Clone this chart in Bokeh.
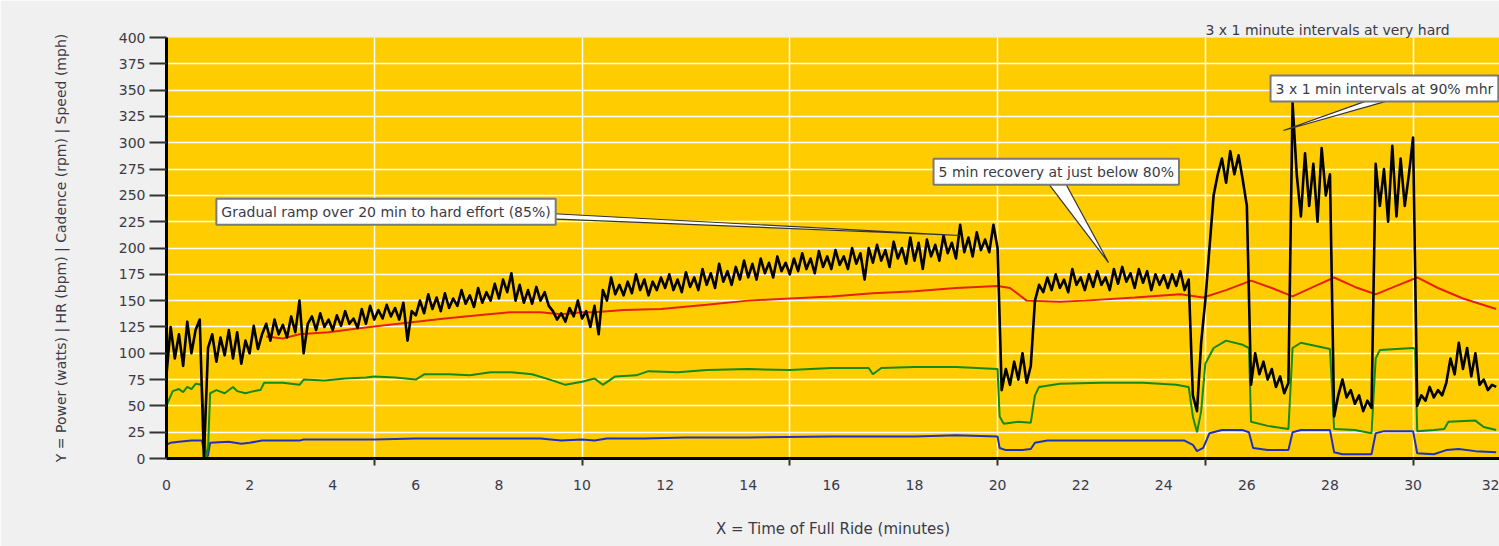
from bokeh.plotting import figure
from bokeh.models import Range1d, FixedTicker, Label
from bokeh.embed import file_html
from bokeh.resources import INLINE

# ---------------- data ----------------
# Power (watts), sampled every 0.1 minute, one row per minute
power_rows = [
    [80, 125, 95, 118, 88, 130, 100, 122, 132, 0],
    [105, 118, 92, 115, 98, 122, 95, 120, 90, 112],
    [100, 126, 104, 118, 128, 112, 132, 118, 127, 115],
    [135, 120, 150, 100, 128, 135, 122, 138, 125, 132],
    [122, 136, 126, 140, 128, 133, 124, 142, 128, 145],
    [132, 141, 133, 146, 135, 143, 132, 148, 112, 140],
    [136, 150, 138, 156, 142, 153, 140, 157, 143, 152],
    [145, 160, 147, 155, 144, 162, 148, 158, 150, 166],
    [152, 170, 158, 176, 150, 165, 148, 160, 147, 163],
    [150, 158, 145, 140, 132, 138, 130, 143, 135, 150],
    [133, 140, 125, 145, 118, 160, 150, 172, 156, 165],
    [155, 168, 157, 175, 160, 170, 155, 168, 160, 172],
    [162, 175, 160, 170, 158, 177, 163, 172, 160, 180],
    [165, 176, 162, 185, 168, 178, 165, 182, 170, 188],
    [172, 185, 170, 190, 176, 186, 172, 192, 178, 186],
    [175, 190, 178, 195, 180, 190, 176, 197, 182, 192],
    [180, 198, 184, 192, 180, 200, 185, 195, 170, 200],
    [186, 203, 188, 198, 182, 206, 190, 200, 185, 210],
    [188, 205, 180, 208, 192, 203, 188, 212, 195, 205],
    [190, 222, 196, 210, 192, 215, 198, 208, 196, 222],
    [200, 65, 85, 70, 92, 75, 100, 72, 88, 150],
    [165, 158, 172, 160, 175, 162, 170, 158, 180, 165],
    [172, 160, 175, 163, 178, 165, 172, 160, 180, 166],
    [182, 168, 176, 162, 180, 167, 178, 160, 175, 165],
    [174, 162, 175, 164, 178, 160, 170, 60, 45, 110],
    [150, 200, 250, 270, 285, 262, 292, 270, 288, 265],
    [240, 70, 100, 80, 92, 75, 85, 68, 78, 62],
    [72, 338, 270, 230, 290, 240, 280, 225, 295, 250],
    [270, 40, 60, 75, 58, 65, 52, 60, 45, 55],
    [48, 280, 240, 275, 225, 297, 230, 285, 240, 270],
    [305, 50, 60, 55, 68, 58, 65, 60, 72, 95],
    [80, 110, 85, 105, 78, 100, 70, 75, 65, 70],
    [68],
]
power = [v for row in power_rows for v in row]
power_t = [round(i * 0.1, 1) for i in range(len(power))]

# Heart rate (bpm)
hr_t = [2.4, 2.8, 3.2, 3.9, 4.5, 5.1, 5.8, 6.7, 7.5, 8.3, 9.0, 9.5, 10.0, 10.3,
        11.0, 11.9, 13.0, 14.0, 15.0, 16.0, 17.0, 18.0, 19.0, 20.0, 20.3, 20.7,
        21.5, 22.1, 23.3, 24.4, 24.95, 25.5, 26.1, 26.6, 27.1, 27.6, 28.1, 28.6,
        29.1, 29.6, 30.1, 30.6, 31.2, 32.0]
hr = [116, 114, 118, 120, 123, 126, 129, 133, 136, 139, 139, 137, 139, 139,
      141, 142, 146, 150, 152, 154, 157, 159, 162, 164, 162, 150,
      149, 150, 153, 156, 153, 160, 169, 162, 154, 163, 172, 163,
      156, 164, 172, 162, 152, 142]

# Cadence (rpm)
cad_t = [0.0, 0.05, 0.15, 0.3, 0.4, 0.5, 0.6, 0.7, 0.85, 0.9, 0.95, 1.0, 1.05,
         1.2, 1.4, 1.6, 1.7, 1.9, 2.1, 2.26, 2.35, 2.8, 3.2, 3.3, 3.8, 4.3, 4.8,
         5.0, 5.5, 6.0, 6.2, 6.8, 7.3, 7.8, 8.3, 8.8, 9.3, 9.6, 10.0, 10.3, 10.5,
         10.8, 11.3, 11.6, 12.3, 13.0, 14.0, 15.0, 16.0, 16.9, 17.0, 17.2, 18.0,
         19.0, 19.5, 20.0, 20.05, 20.15, 20.5, 20.8, 20.9, 21.0, 21.5, 22.5, 23.5,
         24.3, 24.6, 24.7, 24.8, 24.9, 25.0, 25.2, 25.5, 25.9, 26.05, 26.1, 26.5,
         27.0, 27.1, 27.3, 28.0, 28.1, 28.6, 29.0, 29.1, 29.2, 30.0, 30.05, 30.1,
         30.5, 30.75, 30.85, 31.5, 31.7, 32.0]
cad = [50, 55, 64, 66, 63, 68, 66, 71, 70, 35, 0, 10, 62,
       65, 62, 68, 64, 62, 64, 65, 72, 72, 70, 75, 74, 76, 77,
       78, 77, 75, 80, 80, 79, 82, 82, 80, 74, 70, 73, 76, 70,
       78, 79, 83, 82, 84, 85, 84, 86, 86, 80, 86, 87,
       87, 86, 85, 40, 33, 35, 34, 60, 68, 71, 72, 72,
       70, 68, 40, 25, 45, 90, 105, 112, 108, 105, 35, 31,
       28, 105, 110, 104, 28, 27, 24, 95, 103, 105, 104, 26,
       27, 28, 35, 36, 30, 27]

# Speed (mph)
spd_t = [0.0, 0.1, 0.3, 0.6, 0.85, 0.9, 0.95, 1.0, 1.05, 1.5, 1.8, 2.0, 2.3,
         3.2, 3.3, 5.0, 6.0, 7.0, 8.0, 9.0, 9.5, 10.0, 10.3, 10.6, 11.5, 12.5,
         14.0, 16.0, 18.0, 19.0, 20.0, 20.05, 20.2, 20.6, 20.8, 20.9, 21.2, 22.0,
         23.5, 24.5, 24.7, 24.8, 24.95, 25.1, 25.4, 25.9, 26.05, 26.15, 26.5,
         27.0, 27.1, 27.3, 28.0, 28.1, 28.3, 29.0, 29.1, 29.3, 30.0, 30.1, 30.5,
         30.8, 31.1, 31.5, 32.0]
spd = [13, 15, 16, 17, 17, 8, 0, 3, 15, 16, 14, 15, 17,
       17, 18, 18, 19, 19, 19, 19, 17, 18, 17, 19, 19, 20,
       20, 21, 21, 22, 21, 10, 8, 8, 9, 15, 17, 17,
       17, 17, 13, 7, 10, 24, 27, 27, 25, 10, 8,
       8, 25, 27, 27, 6, 4, 4, 24, 26, 26, 5, 4,
       8, 9, 7, 6]

x_ticks = list(range(0, 33, 2))
x_marks = [5, 10, 15, 20, 25, 30]
y_ticks = list(range(0, 401, 25))

title_text = "3 x 1 minute intervals at very hard"
x_title = "X = Time of Full Ride (minutes)"
y_title = "Y = Power (watts) | HR (bpm) | Cadence (rpm) | Speed (mph)"

# callouts: text, box anchor (t, value), pointer base pts, pointer tip
callouts = [
    ("Gradual ramp over 20 min to hard effort (85%)", (1.2, 234.5),
     [(9.1, 233.0), (9.1, 228.0)], (19.11, 211.9)),
    ("5 min recovery at just below 80%", (18.46, 272.5),
     [(21.23, 261.0), (21.64, 261.0)], (22.67, 186.2)),
    ("3 x 1 min intervals at 90% mhr", (26.57, 351.5),
     [(28.9, 340.0), (29.41, 340.0)], (26.88, 311.6)),
]

FONT = "DejaVu Sans"
TXT = "#3a3a48"

p = figure(width=1499, height=546, output_backend="svg", toolbar_location=None,
           x_range=Range1d(0, 32.08), y_range=Range1d(0, 400),
           min_border_left=166, min_border_right=0, min_border_top=37,
           min_border_bottom=88, background_fill_color="#FFCC00",
           border_fill_color="#F0F0F0", outline_line_color=None)

# title above the frame, near the right
p.title.text = title_text
p.title.align = "left"
p.title.offset = 1039
p.title.standoff = 0
p.title.text_font = FONT
p.title.text_font_size = "14px"
p.title.text_font_style = "normal"
p.title.text_color = TXT

# grids
p.xgrid.ticker = FixedTicker(ticks=x_marks)
p.xgrid.grid_line_color = "white"
p.xgrid.grid_line_width = 1.5
p.ygrid.grid_line_color = "white"
p.ygrid.grid_line_width = 1.5

# x axis
p.xaxis.ticker = FixedTicker(ticks=x_ticks, minor_ticks=x_marks)
p.xaxis.major_tick_out = 0
p.xaxis.major_tick_in = 0
p.xaxis.minor_tick_out = 7
p.xaxis.minor_tick_in = 0
p.xaxis.minor_tick_line_color = "#333333"
p.xaxis.minor_tick_line_width = 2
p.xaxis.axis_line_color = "black"
p.xaxis.axis_line_width = 3
p.xaxis.major_label_standoff = 14
p.xaxis.major_label_text_font = FONT
p.xaxis.major_label_text_font_size = "14px"
p.xaxis.major_label_text_color = TXT
p.xaxis.axis_label = x_title
p.xaxis.axis_label_text_font = FONT
p.xaxis.axis_label_text_font_size = "15px"
p.xaxis.axis_label_text_font_style = "normal"
p.xaxis.axis_label_text_color = TXT
p.xaxis.axis_label_standoff = 27

# y axis
p.yaxis.ticker = FixedTicker(ticks=y_ticks)
p.yaxis.major_tick_out = 17
p.yaxis.major_tick_in = 0
p.yaxis.major_tick_line_width = 2
p.yaxis.major_tick_line_color = "#333333"
p.yaxis.minor_tick_line_color = None
p.yaxis.axis_line_color = "black"
p.yaxis.axis_line_width = 3
p.yaxis.major_label_standoff = 4
p.yaxis.major_label_text_font = FONT
p.yaxis.major_label_text_font_size = "14px"
p.yaxis.major_label_text_color = TXT
p.yaxis.axis_label = y_title
p.yaxis.axis_label_text_font = FONT
p.yaxis.axis_label_text_font_size = "14px"
p.yaxis.axis_label_text_font_style = "normal"
p.yaxis.axis_label_text_color = TXT
p.yaxis.axis_label_standoff = 47

# series
p.line(spd_t, spd, line_color="#1f2fc0", line_width=2)
p.line(cad_t, cad, line_color="#138a13", line_width=2)
p.line(hr_t, hr, line_color="#e8200a", line_width=2)
p.line(power_t, power, line_color="black", line_width=2.6, line_join="round")

# callout pointers and boxes
for text, (tx, ty), base, tip in callouts:
    xs = [base[0][0], tip[0], base[1][0]]
    ys = [base[0][1], tip[1], base[1][1]]
    p.patch(xs, ys, fill_color="white", line_color="#333333", line_width=1.2)
for text, (tx, ty), base, tip in callouts:
    p.add_layout(Label(x=tx, y=ty, text=text, text_align="left",
                       text_baseline="middle", text_font=FONT,
                       text_font_size="14px", text_color=TXT,
                       background_fill_color="white",
                       border_line_color="#7a7a7a", border_line_width=2,
                       padding=5))

open("out.html", "w").write(file_html(p, INLINE))
